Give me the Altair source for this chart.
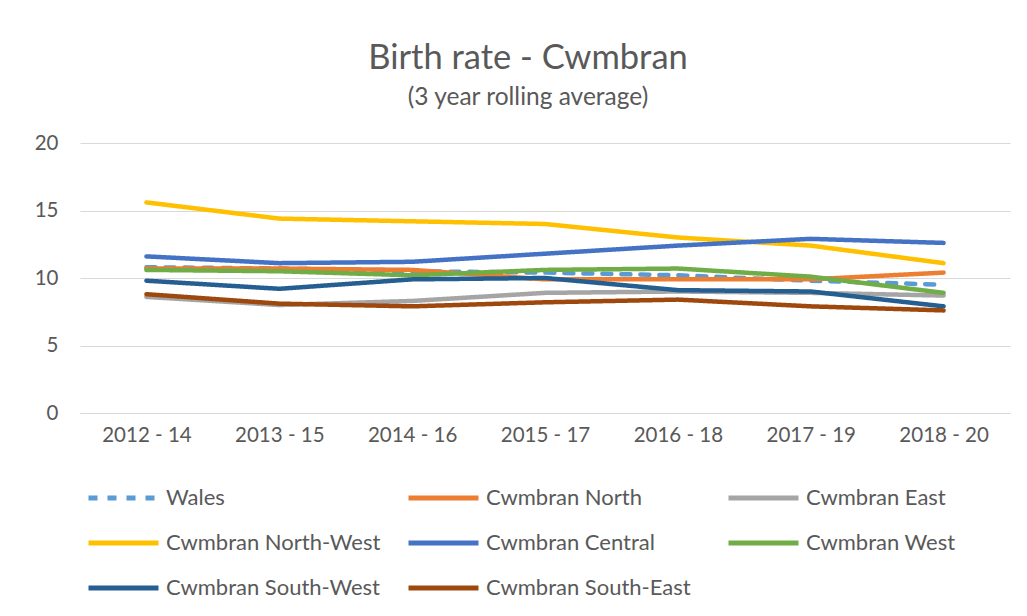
import altair as alt
import pandas as pd

periods = ["2012 - 14", "2013 - 15", "2014 - 16", "2015 - 17", "2016 - 18", "2017 - 19", "2018 - 20"]
series_names = ["Wales", "Cwmbran North", "Cwmbran East", "Cwmbran North-West",
                "Cwmbran Central", "Cwmbran West", "Cwmbran South-West", "Cwmbran South-East"]
wales = [10.8, 10.7, 10.5, 10.4, 10.2, 9.8, 9.5]
north = [10.7, 10.7, 10.6, 9.9, 9.9, 9.9, 10.4]
east = [8.6, 8.0, 8.3, 8.9, 9.0, 8.9, 8.7]
north_west = [15.6, 14.4, 14.2, 14.0, 13.0, 12.4, 11.1]
central = [11.6, 11.1, 11.2, 11.8, 12.4, 12.9, 12.6]
west = [10.6, 10.5, 10.2, 10.6, 10.7, 10.1, 8.9]
south_west = [9.8, 9.2, 9.9, 10.0, 9.1, 9.0, 7.9]
south_east = [8.8, 8.1, 7.9, 8.2, 8.4, 7.9, 7.6]
colors = ["#5B9BD5", "#ED7D31", "#A5A5A5", "#FFC000", "#4472C4", "#70AD47", "#255E91", "#9E480E"]
dashes = [[9, 10], [1, 0], [1, 0], [1, 0], [1, 0], [1, 0], [1, 0], [1, 0]]

all_values = [wales, north, east, north_west, central, west, south_west, south_east]
rows = []
for name, vals in zip(series_names, all_values):
    for p, v in zip(periods, vals):
        rows.append({"Period": p, "Series": name, "Rate": v})
df = pd.DataFrame(rows)

FONT = "Lato"
GREY = "#595959"

legend = alt.Legend(
    title=None, orient="none", legendX=6, legendY=335, columns=3, direction="horizontal",
    gridAlign="all", symbolType="M-1,0H3", symbolSize=1225, symbolStrokeWidth=5,
    labelFont=FONT, labelFontSize=22, labelColor=GREY, labelOffset=40,
    columnPadding=17, rowPadding=14, labelLimit=400,
)

chart = alt.Chart(df).mark_line(strokeWidth=4.5, strokeCap="round").encode(
    x=alt.X("Period:O", sort=periods, scale=alt.Scale(padding=0.5),
            axis=alt.Axis(title=None, labelAngle=0, labelFont=FONT, labelFontSize=20.5,
                          labelColor=GREY, ticks=False, domainColor="#D9D9D9",
                          domainWidth=1, labelPadding=12)),
    y=alt.Y("Rate:Q", scale=alt.Scale(domain=[0, 20], nice=False),
            axis=alt.Axis(title=None, values=[0, 5, 10, 15, 20], labelFont=FONT,
                          labelFontSize=20.5, labelColor=GREY, ticks=False, domain=False,
                          gridColor="#D9D9D9", gridWidth=1, labelPadding=22)),
    color=alt.Color("Series:N", sort=series_names,
                    scale=alt.Scale(domain=series_names, range=colors), legend=legend),
    strokeDash=alt.StrokeDash("Series:N", sort=series_names,
                              scale=alt.Scale(domain=series_names, range=dashes), legend=legend),
).properties(
    width=930, height=270,
    autosize=alt.AutoSizeParams(type="none"),
    padding={"left": 72, "top": 135, "right": 9, "bottom": 195},
    title=alt.TitleParams(
        text="Birth rate - Cwmbran", subtitle="(3 year rolling average)",
        font=FONT, fontSize=34.5, fontWeight="normal", color=GREY,
        subtitleFont=FONT, subtitleFontSize=24.5, subtitleColor=GREY,
        anchor="middle", dx=-17, offset=23, subtitlePadding=9,
    ),
).configure_view(stroke=None)

chart.save("out.html", embed_options={"renderer": "svg", "actions": False})
